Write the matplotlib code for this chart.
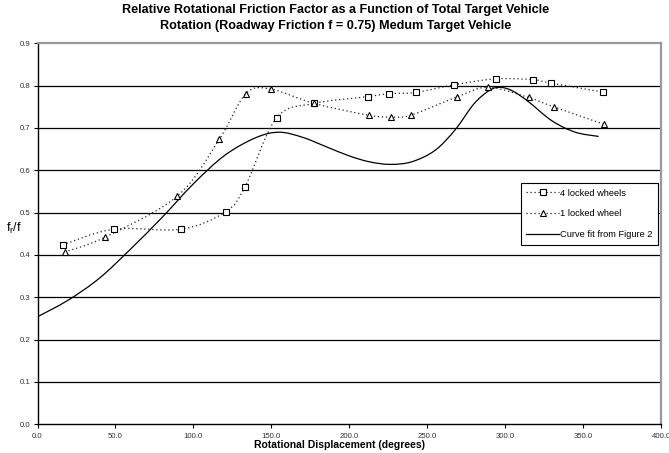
import matplotlib
matplotlib.use("Agg")
import matplotlib.pyplot as plt
from matplotlib.path import Path
from matplotlib.patches import PathPatch
from matplotlib.lines import Line2D
import numpy as np

plt.rcParams['font.family'] = ['Liberation Sans', 'DejaVu Sans']

# Data
x_four = [16.2, 49.1, 92.2, 120.7, 133.1, 153.4, 177.4, 211.8, 225.7, 242.8, 267.4, 293.9, 318.0, 329.2, 362.7]
y_four = [0.424, 0.461, 0.461, 0.502, 0.561, 0.724, 0.758, 0.774, 0.781, 0.784, 0.802, 0.816, 0.814, 0.806, 0.785]

x_one = [17.4, 43.3, 89.7, 116.6, 133.7, 149.6, 177.4, 212.6, 226.7, 239.4, 268.9, 289.0, 315.0, 331.1, 363.2]
y_one = [0.407, 0.442, 0.539, 0.673, 0.781, 0.792, 0.758, 0.730, 0.726, 0.730, 0.773, 0.796, 0.772, 0.750, 0.709]

x_fit = [0.0, 20.0, 40.0, 60.0, 80.0, 100.0, 120.0, 140.0, 155.0, 170.0, 185.0, 200.0, 213.0, 226.0, 240.0, 255.0, 268.0, 280.0, 290.0, 297.0, 305.0, 315.0, 330.0, 345.0, 360.0]
y_fit = [0.254, 0.294, 0.346, 0.415, 0.489, 0.568, 0.635, 0.677, 0.690, 0.678, 0.656, 0.634, 0.620, 0.614, 0.620, 0.647, 0.696, 0.757, 0.789, 0.796, 0.787, 0.762, 0.717, 0.690, 0.680]

x_ticks = [0, 50, 100, 150, 200, 250, 300, 350, 400]
y_ticks = [0.0, 0.1, 0.2, 0.3, 0.4, 0.5, 0.6, 0.7, 0.8, 0.9]

labels = ['4 locked wheels', '1 locked wheel', 'Curve fit from Figure 2']
title = ('Relative Rotational Friction Factor as a Function of Total Target Vehicle\n'
         'Rotation (Roadway Friction f = 0.75) Medum Target Vehicle')


def smooth_path(xs, ys):
    """Excel-style smoothed line: Catmull-Rom segments as cubic Bezier."""
    pts = np.column_stack([xs, ys]).astype(float)
    n = len(pts)
    verts = [pts[0]]
    codes = [Path.MOVETO]
    for i in range(n - 1):
        p0 = pts[i - 1] if i > 0 else pts[i]
        p1 = pts[i]
        p2 = pts[i + 1]
        p3 = pts[i + 2] if i + 2 < n else pts[i + 1]
        c1 = p1 + (p2 - p0) / 6.0
        c2 = p2 - (p3 - p1) / 6.0
        verts += [c1, c2, p2]
        codes += [Path.CURVE4] * 3
    return Path(verts, codes)


fig = plt.figure(figsize=(6.69, 4.53), dpi=100)
ax = fig.add_axes([37.5 / 669, 1 - 424.3 / 453, (661 - 37.5) / 669, (424.3 - 43.3) / 453])

ax.set_xlim(0, 400)
ax.set_ylim(0, 0.9)

for yv in y_ticks[1:-1]:
    ax.axhline(yv, color='black', lw=0.9, zorder=1)

dot = (0, (1, 2.2))
ax.add_patch(PathPatch(smooth_path(x_four, y_four), fill=False, edgecolor='#222222', lw=0.9, linestyle=dot, zorder=3))
ax.add_patch(PathPatch(smooth_path(x_one, y_one), fill=False, edgecolor='#222222', lw=0.9, linestyle=dot, zorder=3))
ax.add_patch(PathPatch(smooth_path(x_fit, y_fit), fill=False, edgecolor='black', lw=0.9, linestyle='-', zorder=3))

ax.plot(x_four, y_four, linestyle='none', marker='s', ms=4.2, mfc='white', mec='black', mew=0.8, zorder=4)
ax.plot(x_one, y_one, linestyle='none', marker='^', ms=4.2, mfc='white', mec='black', mew=0.8, zorder=4)

ax.set_xticks(x_ticks)
ax.set_xticklabels([f'{v:.1f}' for v in x_ticks])
ax.set_yticks(y_ticks)
ax.set_yticklabels([f'{v:.1f}' for v in y_ticks])
ax.tick_params(axis='both', labelsize=5.6, labelcolor='#333333', length=3, width=0.8, direction='out', color='black')
ax.tick_params(axis='x', pad=3)
ax.tick_params(axis='y', pad=2)

for s in ['left', 'bottom']:
    ax.spines[s].set_color('black')
    ax.spines[s].set_linewidth(1.0)
for s in ['top', 'right']:
    ax.spines[s].set_color('#999999')
    ax.spines[s].set_linewidth(1.6)

fig.text(339.5 / 669, 1 - 445 / 453, 'Rotational Displacement (degrees)', fontsize=7.5,
         fontweight='bold', ha='center', va='center')
fig.text(14 / 669, 1 - 228 / 453, r'f$_\mathregular{r}$/f', fontsize=9, ha='center', va='center')

fig.text(335.5 / 669, 1 - 18 / 453, title, fontsize=9.1, fontweight='bold', ha='center', va='center',
         linespacing=1.4)

handles = [
    Line2D([], [], color='#222222', lw=0.9, linestyle=dot, marker='s', ms=4.2, mfc='white', mec='black', mew=0.8),
    Line2D([], [], color='#222222', lw=0.9, linestyle=dot, marker='^', ms=4.2, mfc='white', mec='black', mew=0.8),
    Line2D([], [], color='black', lw=0.9, linestyle='-'),
]
leg = ax.legend(handles, labels, loc='upper right', bbox_to_anchor=(0.995, 0.633), fontsize=6.7,
                frameon=True, fancybox=False, edgecolor='black', framealpha=1, handlelength=3.5,
                handletextpad=0.1, borderpad=0.6, labelspacing=1.25, borderaxespad=0)
leg.get_frame().set_linewidth(0.8)

fig.savefig('out.png', dpi=100)
